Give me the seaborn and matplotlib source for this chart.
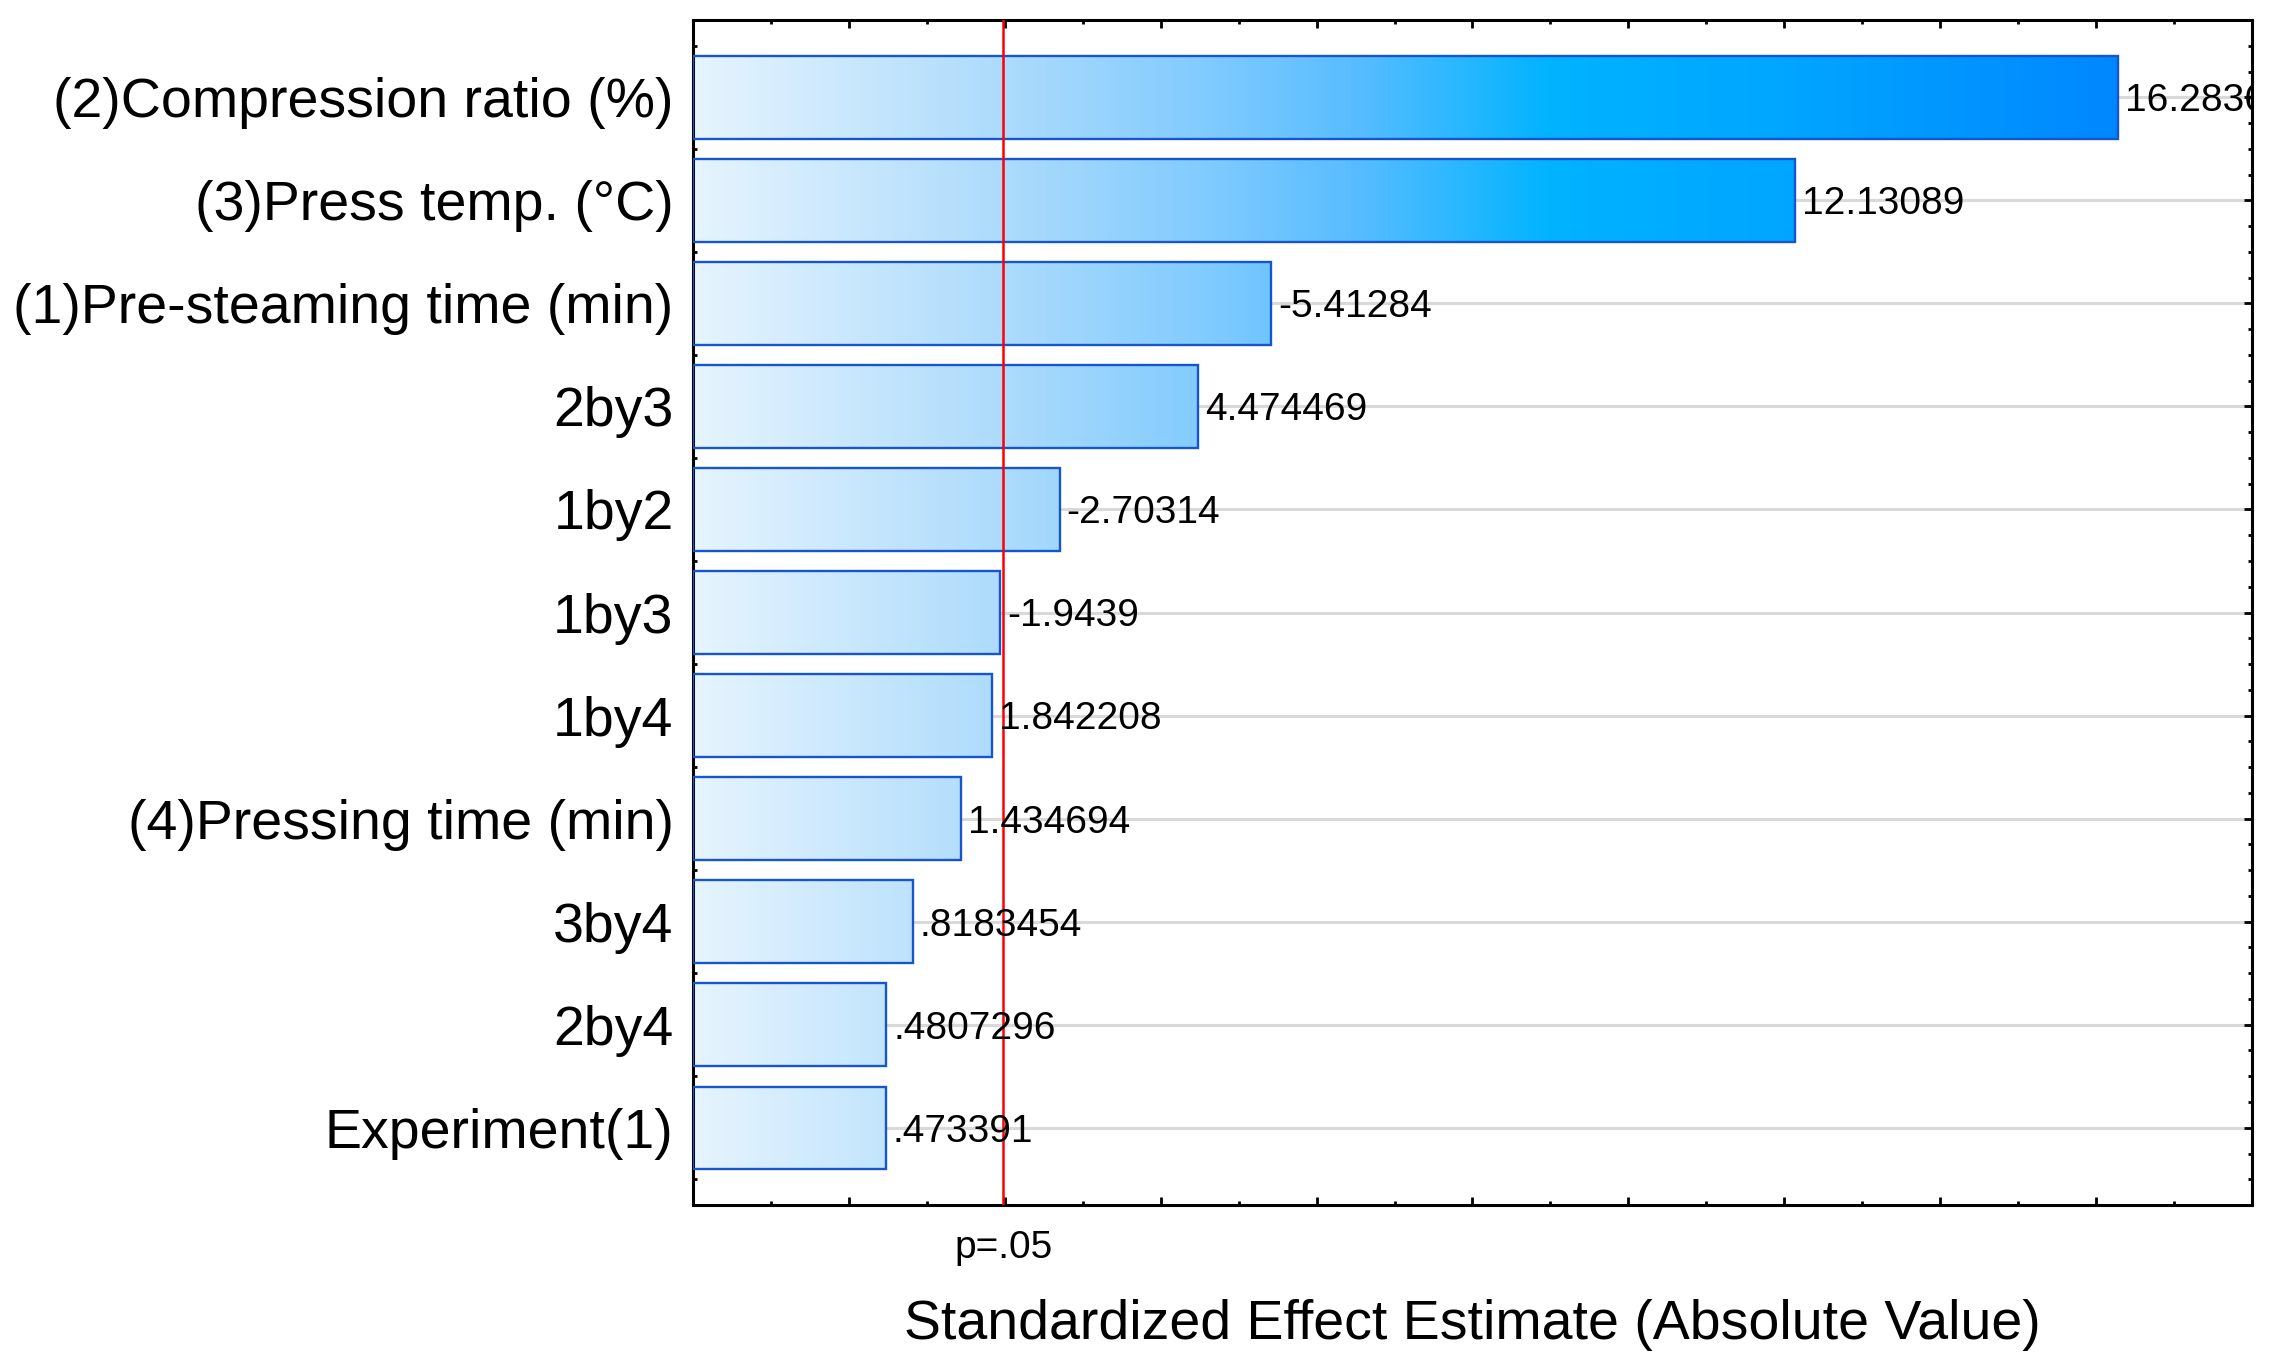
import numpy as np
import pandas as pd
import matplotlib
matplotlib.use("Agg")
import matplotlib.pyplot as plt
import matplotlib.transforms as mtransforms
from matplotlib.colors import LinearSegmentedColormap
from matplotlib.ticker import MultipleLocator
import seaborn as sns

# ---------------- data ----------------
factors = [
    "(2)Compression ratio (%)",
    "(3)Press temp. (°C)",
    "(1)Pre-steaming time (min)",
    "2by3",
    "1by2",
    "1by3",
    "1by4",
    "(4)Pressing time (min)",
    "3by4",
    "2by4",
    "Experiment(1)",
]
effects = [16.2836, 12.13089, -5.41284, 4.474469, -2.70314, -1.9439,
           1.842208, 1.434694, 0.8183454, 0.4807296, 0.473391]
effect_labels = ["16.2836", "12.13089", "-5.41284", "4.474469", "-2.70314",
                 "-1.9439", "1.842208", "1.434694", ".8183454", ".4807296",
                 ".473391"]
p_crit = 1.98
p_label = "p=.05"
x_min, x_max = -2, 18
x_title = "Standardized Effect Estimate (Absolute Value)"

# ---------------- style ----------------
sns.set_style("white")
plt.rcParams["font.family"] = ["Liberation Sans", "DejaVu Sans"]
plt.rcParams["text.color"] = "black"
plt.rcParams["axes.labelcolor"] = "black"
plt.rcParams["xtick.color"] = "black"
plt.rcParams["ytick.color"] = "black"

offset = -x_min  # bars start at left edge of the axis (x_min)
df = pd.DataFrame({"factor": factors, "effect": effects})
df["abs_effect"] = df["effect"].abs()
df["bar_extent"] = df["abs_effect"] + offset

fig = plt.figure(figsize=(22.75, 13.72), dpi=100)
fig.subplots_adjust(left=0.3046, right=0.9899, top=0.9854, bottom=0.1217)
ax = fig.add_subplot(111)

edge_col = "#1556d0"
sns.barplot(data=df, x="bar_extent", y="factor", orient="h", width=0.8,
            fill=False, color=edge_col, linewidth=1.7, ax=ax, zorder=3)

# gradient fill by x position (shared across bars)
cmap = LinearSegmentedColormap.from_list(
    "stat_blue",
    [(0.00, "#e6f4fe"), (0.20, "#acdbfc"), (0.33, "#80cbff"),
     (0.43, "#55bcff"), (0.55, "#00b3ff"), (0.70, "#00a6ff"),
     (0.91, "#0088ff"), (1.00, "#0080ff")])
grad = np.linspace(0, 1, 512).reshape(1, -1)
ylo, yhi = -0.75, len(factors) - 0.25
for patch in list(ax.patches):
    im = ax.imshow(grad, extent=(0, x_max + offset, yhi, ylo), aspect="auto",
                   cmap=cmap, zorder=2, interpolation="bilinear")
    im.set_clip_path(patch)

ax.set_xlim(0, x_max + offset)
ax.set_ylim(yhi, ylo)

# grid
ax.set_axisbelow(True)
ax.yaxis.grid(True, color="#d9d9d9", linewidth=2.2, zorder=0)
ax.xaxis.grid(False)

# p = .05 line
ax.axvline(p_crit + offset, color="#ff0000", linewidth=1.8, zorder=4)

# value labels (digits centred on the bar)
for i, (v, lab) in enumerate(zip(df["abs_effect"], effect_labels)):
    ax.text(v + offset + 0.09, i + 0.135, lab, ha="left", va="baseline",
            fontsize=28, color="black", zorder=5, clip_on=True)

# spines and ticks
for sp in ax.spines.values():
    sp.set_visible(True)
    sp.set_color("black")
    sp.set_linewidth(2.2)

ax.xaxis.set_major_locator(MultipleLocator(2))
ax.xaxis.set_minor_locator(MultipleLocator(1))
ax.yaxis.set_minor_locator(MultipleLocator(0.25))
ax.tick_params(axis="both", which="major", direction="in", length=6, width=2,
               color="black", top=True, bottom=True, left=True, right=True)
ax.tick_params(axis="both", which="minor", direction="in", length=3, width=2,
               color="black", top=True, bottom=True, left=True, right=True)
ax.tick_params(axis="x", which="both", labelbottom=False, labeltop=False)
ax.tick_params(axis="y", which="major", labelsize=40, pad=14, labelleft=True,
               labelright=False, labelcolor="black")
ax.set_ylabel("")

trans = mtransforms.blended_transform_factory(ax.transData, ax.transAxes)
ax.text(p_crit + offset, -0.036, p_label, transform=trans, ha="center",
        va="center", fontsize=28, color="black")

ax.set_xlabel(x_title, fontsize=40, color="black")
ax.xaxis.label.set_va("center")
ax.xaxis.set_label_coords(0.5, -0.101)

fig.savefig("out.png", dpi=100)
